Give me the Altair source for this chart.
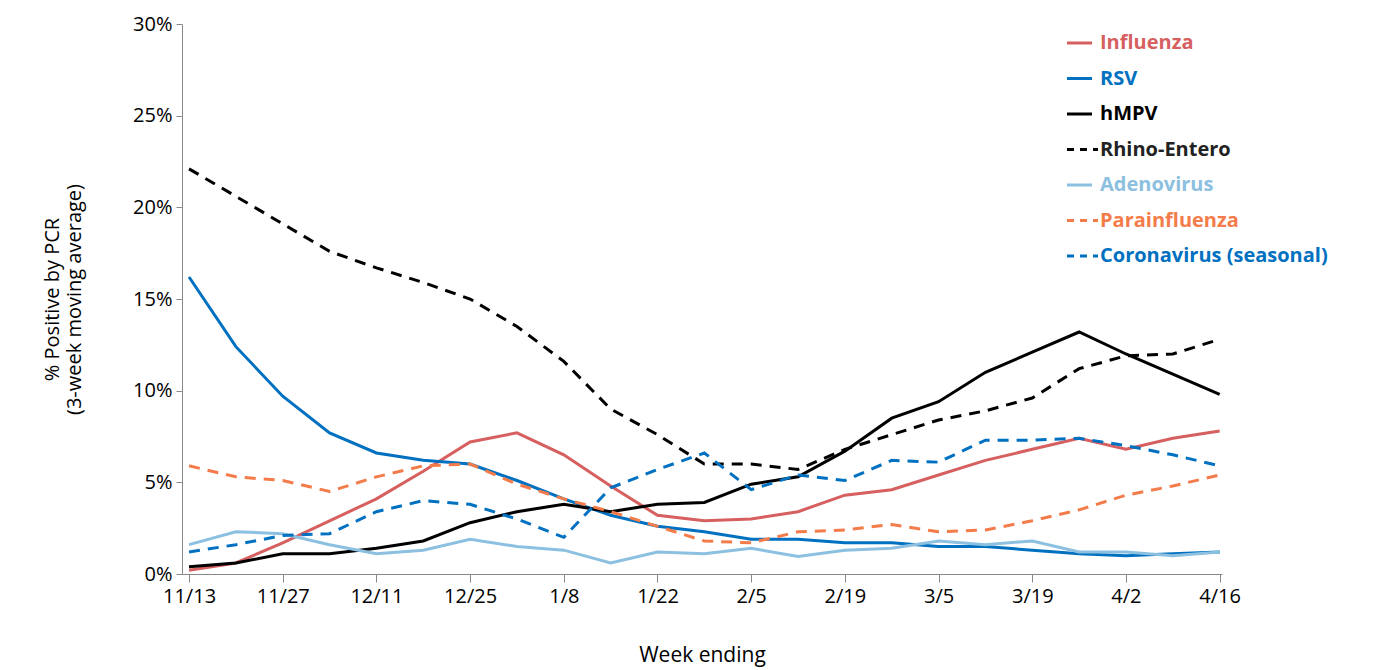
import altair as alt
import pandas as pd

weeks = ["11/13", "11/20", "11/27", "12/4", "12/11", "12/18", "12/25", "1/1", "1/8", "1/15", "1/22", "1/29",
         "2/5", "2/12", "2/19", "2/26", "3/5", "3/12", "3/19", "3/26", "4/2", "4/9", "4/16"]

influenza = [0.2, 0.6, 1.7, 2.9, 4.1, 5.6, 7.2, 7.7, 6.5, 4.8, 3.2, 2.9, 3.0, 3.4, 4.3, 4.6, 5.4, 6.2, 6.8, 7.4, 6.8, 7.4, 7.8]
rsv = [16.2, 12.4, 9.7, 7.7, 6.6, 6.2, 6.0, 5.1, 4.1, 3.2, 2.6, 2.3, 1.9, 1.9, 1.7, 1.7, 1.5, 1.5, 1.3, 1.1, 1.0, 1.1, 1.2]
hmpv = [0.4, 0.6, 1.1, 1.1, 1.4, 1.8, 2.8, 3.4, 3.8, 3.4, 3.8, 3.9, 4.9, 5.3, 6.7, 8.5, 9.4, 11.0, 12.1, 13.2, 12.0, 10.9, 9.8]
rhino = [22.1, 20.6, 19.1, 17.6, 16.7, 15.9, 15.0, 13.5, 11.6, 9.0, 7.6, 6.0, 6.0, 5.7, 6.8, 7.6, 8.4, 8.9, 9.6, 11.2, 11.9, 12.0, 12.8]
adeno = [1.6, 2.3, 2.2, 1.6, 1.1, 1.3, 1.9, 1.5, 1.3, 0.6, 1.2, 1.1, 1.4, 0.95, 1.3, 1.4, 1.8, 1.6, 1.8, 1.2, 1.2, 1.0, 1.2]
parainf = [5.9, 5.3, 5.1, 4.5, 5.3, 5.9, 6.0, 4.9, 4.1, 3.4, 2.6, 1.8, 1.7, 2.3, 2.4, 2.7, 2.3, 2.4, 2.9, 3.5, 4.3, 4.8, 5.4]
corona = [1.2, 1.6, 2.1, 2.2, 3.4, 4.0, 3.8, 3.0, 2.0, 4.7, 5.7, 6.6, 4.6, 5.4, 5.1, 6.2, 6.1, 7.3, 7.3, 7.4, 7.0, 6.5, 5.9]

names = ["Influenza", "RSV", "hMPV", "Rhino-Entero", "Adenovirus", "Parainfluenza", "Coronavirus (seasonal)"]
series = [influenza, rsv, hmpv, rhino, adeno, parainf, corona]
colors = ["#D65F5F", "#0070C0", "#000000", "#000000", "#8CC0E0", "#F47C4A", "#0070C0"]
text_colors = ["#D65F5F", "#0070C0", "#000000", "#222222", "#8CC0E0", "#F47C4A", "#0070C0"]
dashed = [False, False, False, True, False, True, True]

FONT = "Open Sans"
W, H = 1040, 550

rows = []
for n, s in zip(names, series):
    for i, v in enumerate(s):
        rows.append({"series": n, "i": i, "v": v / 100})
df = pd.DataFrame(rows)

label_expr = "[" + ",".join(f"'{w}'" for w in weeks) + "][datum.value]"

x = alt.X("i:Q", scale=alt.Scale(domain=[-0.15, 22.05], nice=False, zero=False),
          axis=alt.Axis(values=list(range(0, 23, 2)), labelExpr=label_expr, title="Week ending",
                        grid=False, domainColor="#888", tickColor="#888", tickSize=8,
                        labelFont=FONT, labelFontSize=20, labelColor="#000", labelPadding=4,
                        titleFont=FONT, titleFontSize=21, titleFontWeight="normal", titlePadding=38))
y = alt.Y("v:Q", scale=alt.Scale(domain=[0, 0.3], nice=False),
          axis=alt.Axis(values=[0, 0.05, 0.1, 0.15, 0.2, 0.25, 0.3], format=".0%", grid=False,
                        domainColor="#888", tickColor="#888", tickSize=6,
                        labelFont=FONT, labelFontSize=20, labelColor="#000", labelPadding=4,
                        title=["% Positive by PCR", "(3-week moving average)"],
                        titleFont=FONT, titleFontSize=20, titleFontWeight="normal", titlePadding=48))

layers = []
for n, c, d in zip(names, colors, dashed):
    m = {"color": c, "strokeWidth": 3}
    if d:
        m["strokeDash"] = [11, 8]
    layers.append(alt.Chart(df[df.series == n]).mark_line(**m).encode(x=x, y=y))

leg = pd.DataFrame({"name": names, "k": list(range(7)), "color": colors, "tcolor": text_colors,
                    "dash": ["solid" if not d else "dash" for d in dashed]})
leg["py"] = 19 + leg["k"] * 35.5

leg_solid = alt.Chart(leg[leg.dash == "solid"]).mark_rule(strokeWidth=3).encode(
    x=alt.value(W - 155), x2=alt.value(W - 130), y=alt.Y("py:Q", scale=None),
    color=alt.Color("color:N", scale=None))
leg_dash = alt.Chart(leg[leg.dash == "dash"]).mark_rule(strokeWidth=3, strokeDash=[7, 6]).encode(
    x=alt.value(W - 155), x2=alt.value(W - 124), y=alt.Y("py:Q", scale=None),
    color=alt.Color("color:N", scale=None))
leg_text = alt.Chart(leg).mark_text(align="left", baseline="middle", font=FONT, fontSize=20,
                                    fontWeight="bold").encode(
    x=alt.value(W - 122), y=alt.Y("py:Q", scale=None), text="name:N",
    color=alt.Color("tcolor:N", scale=None))

chart = alt.layer(*layers, leg_solid, leg_dash, leg_text).properties(
    width=W, height=H, background="white", padding={"left": 34, "top": 6, "right": 5, "bottom": 5}
).configure_view(stroke=None)

chart.save("out.html", embed_options={"renderer": "svg", "actions": False})
